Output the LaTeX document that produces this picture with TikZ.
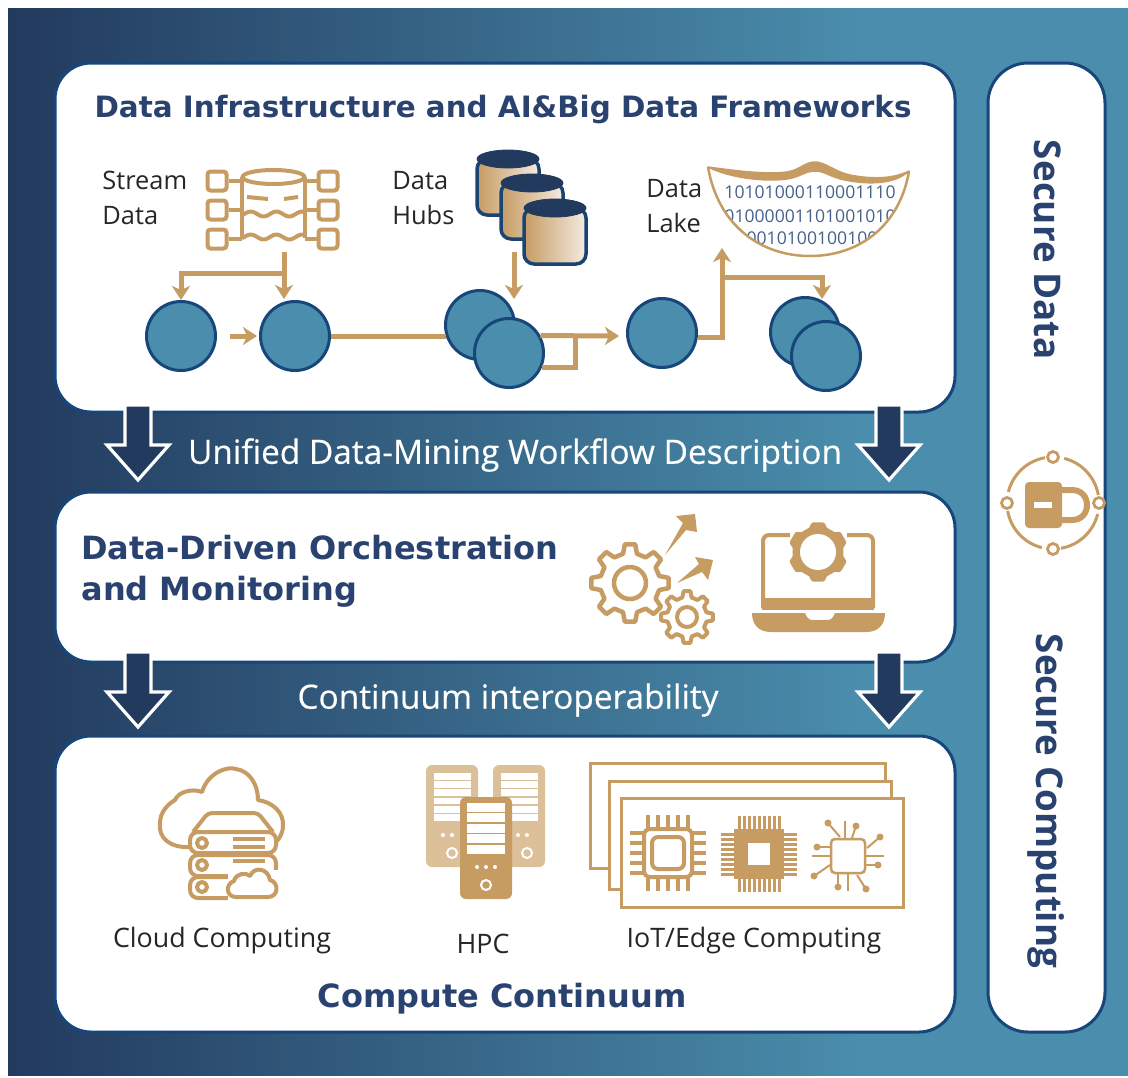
\documentclass[tikz,border=0pt]{standalone}
\usepackage{fontspec}
\setmainfont{Open Sans}
\newfontfamily\headfont{DejaVu Sans}
\newfontfamily\bandfont{Open Sans}[FakeBold=0.35]
\usepackage[HTML]{xcolor}
\usetikzlibrary{positioning, arrows.meta}

\definecolor{navy}{HTML}{223A5E}
\definecolor{edgeblue}{HTML}{17467A}
\definecolor{teal}{HTML}{4A8DAC}
\definecolor{tan}{HTML}{C69C63}
\definecolor{paletan}{HTML}{DCC09A}
\definecolor{inkblue}{HTML}{2A4270}
\definecolor{digitblue}{HTML}{44628C}

\pgfdeclarehorizontalshading{bandshade}{100bp}{color(0bp)=(navy); color(25bp)=(navy); color(63bp)=(teal); color(100bp)=(teal)}

\tikzset{
    pics/blockarrow/.style={code={
        \draw[white, fill=navy, line width=1.6pt, line join=miter]
            (-13,0) -- (13,0) -- (13,40) -- (31,40) -- (0,75) -- (-31,40) -- (-13,40) -- cycle;
    }},
    pics/hubdrum/.style={code={
        \draw[edgeblue!80!navy, line width=1.75pt, left color=tan, middle color=tan, right color=tan!20!white, rounded corners=5pt]
            (0,9) -- (0,65) -- (62,65) -- (62,9) -- cycle;
        \fill[navy, draw=navy] (31,9) ellipse [x radius=31, y radius=9];
    }},
    pics/gearwheel/.style n args={3}{code={
        \path[pic actions] ({0.7*360/#3}:#1)
            \foreach \t in {1,...,#3} {
                -- ({(\t-0.3)*360/#3}:#1) -- ({(\t-0.17)*360/#3}:#2)
                -- ({(\t+0.17)*360/#3}:#2) -- ({(\t+0.3)*360/#3}:#1)
            } -- cycle;
    }},
}

\begin{document}
\begin{tikzpicture}[
    x=0.5pt, y=-0.5pt,
    panel/.style={draw=edgeblue, fill=white, line width=1.5pt, rounded corners=18pt, inner sep=0pt},
    flow/.style={circle, draw=edgeblue, fill=teal, line width=1.5pt, minimum size=34.5pt, inner sep=0pt},
    flowline/.style={draw=tan, line width=2.5pt},
    flowarrow/.style={flowline, -{Stealth[length=7pt, width=9pt, inset=2pt]}},
    iconline/.style={draw=tan, line width=2pt, line join=round},
    port/.style={rectangle, draw=tan, line width=2pt, rounded corners=1.5pt, minimum size=9.5pt, inner sep=0pt},
    locknode/.style={circle, draw=tan, fill=white, line width=1.4pt, minimum size=5.5pt, inner sep=0pt},
    boxtitle/.style={font=\headfont\bfseries\fontsize{16}{19}\selectfont, text=inkblue, inner sep=0pt},
    bandtext/.style={font=\bandfont\fontsize{16.7}{20}\selectfont, text=white, inner sep=0pt},
    sidetext/.style={font=\bfseries\fontsize{18.4}{22}\selectfont, text=inkblue, rotate=-90, inner sep=0pt},
    smalltext/.style={font=\fontsize{12.7}{17.5}\selectfont, text=black!85, inner sep=0pt, align=left},
    icontext/.style={font=\fontsize{13.4}{17}\selectfont, text=black!85, inner sep=0pt},
    digits/.style={font=\fontsize{8.8}{10}\selectfont, text=digitblue, inner sep=0pt},
]
    \useasboundingbox (0,0) rectangle (1128,1077);
    \fill[white] (0,0) rectangle (1128,1077);

    % Background
    \shade[shading=bandshade] (8,8) rectangle (1128,1075);

    % Define panels
    \node (infraBox) [panel, minimum width=450pt, minimum height=174.5pt] at (505,237.5) {};
    \node (orchBox) [panel, minimum width=450pt, minimum height=85pt] at (505,577) {};
    \node (computeBox) [panel, minimum width=450pt, minimum height=148pt] at (505,884) {};
    \node (secureBox) [panel, minimum width=58.5pt, minimum height=484.5pt, rounded corners=20pt] at (1046.5,547.5) {};

    % Block arrows between panels
    \pic (arrowA) at (138,405) {blockarrow};
    \pic (arrowB) at (889,405) {blockarrow};
    \pic (arrowC) at (138,652) {blockarrow};
    \pic (arrowD) at (889,652) {blockarrow};

    % Titles and band texts
    \node (titleInfra) [boxtitle, font=\headfont\bfseries\fontsize{14.7}{18}\selectfont] at (503,109) {Data Infrastructure and AI\&Big Data Frameworks};
    \node (titleOrchA) [boxtitle, anchor=west] at (81,548) {Data-Driven Orchestration};
    \node (titleOrchB) [boxtitle, anchor=west] at (81,592) {and Monitoring};
    \node (titleCompute) [boxtitle] at (502,999) {Compute Continuum};
    \node (bandUnified) [bandtext] at (515,455) {Unified Data-Mining Workflow Description};
    \node (bandContinuum) [bandtext] at (508,700) {Continuum interoperability};
    \node (sideData) [sidetext] at (1048,250) {Secure Data};
    \node (sideCompute) [sidetext] at (1046,801) {Secure Computing};

    % Data labels
    \node (labelStream) [smalltext, anchor=west] at (102,198) {Stream\\Data};
    \node (labelHubs) [smalltext, anchor=west] at (392,198) {Data\\Hubs};
    \node (labelLake) [smalltext, anchor=west] at (646,206) {Data\\Lake};

    % Stream data icon
    \node (streamTank) [minimum width=31pt, minimum height=31pt, inner sep=0pt] at (273.5,207) {};
    \node (portA) [port] at (217,181) {};
    \node (portB) [port, below=3pt of portA] {};
    \node (portC) [port, below=3pt of portB] {};
    \node (portD) [port] at (328,181) {};
    \node (portE) [port, below=3pt of portD] {};
    \node (portF) [port, below=3pt of portE] {};
    \foreach \p in {portA, portB, portC}
        \draw[iconline] (\p.east) -- (\p -| streamTank.west);
    \foreach \p in {portD, portE, portF}
        \draw[iconline] (\p.west) -- (\p -| streamTank.east);
    \draw[iconline] (streamTank.west |- 0,177) -- (streamTank.west |- 0,238);
    \draw[iconline] (streamTank.east |- 0,177) -- (streamTank.east |- 0,238);
    \draw[iconline] (273.5,177) ellipse [x radius=31, y radius=7];
    \draw[iconline] (247,197) -- (268,199) (284,199) -- (298,197);
    \draw[iconline] plot[domain=242:304, samples=30, smooth] (\x,{214+2.5*sin(\x*14)});
    \draw[iconline] plot[domain=242:304, samples=30, smooth] (\x,{237+2.5*sin(\x*14)});

    % Data hubs icon
    \pic (drumA) at (477,150) {hubdrum};
    \pic (drumB) at (501,174) {hubdrum};
    \pic (drumC) at (524,199) {hubdrum};

    % Data lake icon
    \begin{scope}
        \clip (708,167) .. controls (718,225) and (760,256) .. (810,256)
            .. controls (860,256) and (900,225) .. (909,171) -- cycle;
        \node (digitsA) [digits] at (810,192) {10101000110001110};
        \node (digitsB) [digits] at (810,216) {0010000011010010100};
        \node (digitsC) [digits] at (812,238) {100101001001000};
    \end{scope}
    \draw[draw=tan, line width=1.25pt] (708,167) .. controls (718,225) and (760,256) .. (810,256)
        .. controls (860,256) and (900,225) .. (909,171);
    \draw[fill=tan, draw=tan, line width=0.75pt, line join=round] (708,167) .. controls (730,170) and (765,175) .. (787,172)
        .. controls (800,170) and (805,162) .. (815,162)
        .. controls (825,162) and (835,172) .. (850,175)
        .. controls (875,180) and (895,178) .. (909,171)
        .. controls (895,184) and (870,185) .. (845,180)
        .. controls (830,177) and (825,171) .. (815,171)
        .. controls (805,171) and (800,177) .. (787,179)
        .. controls (765,182) and (730,178) .. (708,167) -- cycle;

    % Define flow nodes
    \node (flowA) [flow] at (181,336) {};
    \node (flowB) [flow, right=21pt of flowA] {};
    \node (flowCback) [flow] at (480,325) {};
    \node (flowC) [flow] at (509,353) {};
    \node (flowD) [flow] at (662,333) {};
    \node (flowEback) [flow] at (805,332) {};
    \node (flowE) [flow] at (826,356) {};

    % Free ends of the arrows
    \coordinate (streamOut) at (284,252);
    \coordinate (streamJoin) at (284,273);
    \coordinate (streamIn) at (284,299);
    \coordinate (hubOut) at (514,252);
    \coordinate (hubIn) at (514,299);
    \coordinate (flowDin) at (619,336);
    \coordinate (loopEnd) at (575,336);
    \coordinate (lakeIn) at (722,248);
    \coordinate (lakeJoin) at (722,277);
    \coordinate (flowEin) at (822,299);

    % Draw arrows
    \draw[flowline] (streamOut) -- (streamJoin);
    \draw[flowarrow] (streamJoin) -- (streamIn);
    \draw[flowarrow] (streamJoin) -| (flowA.north);
    \draw[flowarrow, shorten <=6.5pt, shorten >=1pt] (flowA.east) -- (flowB.west);
    \draw[flowline] (flowB.east) -- (flowB.east -| flowCback.198);
    \draw[flowarrow] (hubOut) -- (hubIn);
    \draw[flowarrow] (flowC.29) -- (flowDin);
    \draw[flowline] (flowC.-24) -| (loopEnd);
    \draw[flowarrow] (flowD.-7) -| (lakeIn);
    \draw[flowarrow] (lakeJoin) -| (flowEin);

    % Gears with arrows
    \pic[draw=tan, fill=white, line width=2.25pt, line join=round] (gearBig) at (630,583) {gearwheel={30}{39}{8}};
    \draw[draw=tan, line width=2.25pt] (630,583) circle (16);
    \pic[draw=tan, fill=white, line width=2pt, line join=round] (gearSmall) at (687,617) {gearwheel={20}{26}{8}};
    \draw[draw=tan, line width=2pt] (687,617) circle (10);
    \fill[tan] (665,555) -- (686,530) -- (697,532) -- (695,514) -- (676,516) -- (683,523) -- cycle;
    \fill[tan] (677,583) -- (702,572) -- (708,580) -- (713,560) -- (695,557) -- (699,564) -- cycle;

    % Laptop
    \draw[iconline, rounded corners=3pt] (790,535) -- (763,535) -- (763,608);
    \draw[iconline, rounded corners=3pt] (847,535) -- (873,535) -- (873,608);
    \fill[tan] (762,598) rectangle (874,610);
    \fill[tan] (752,613) -- (805,613) .. controls (808,620) and (810,620) .. (814,620) -- (826,620)
        .. controls (830,620) and (832,620) .. (835,613) -- (885,613)
        .. controls (885,625) and (878,632) .. (866,632) -- (771,632)
        .. controls (759,632) and (752,625) .. (752,613) -- cycle;
    \pic[draw=tan, fill=tan, line width=2pt, line join=round, rotate=30] (gearLaptop) at (818,552) {gearwheel={24}{28}{6}};
    \fill[white] (818,552) circle (18);

    % Lock on the side panel
    \node (lockE) [locknode] at (1099,503) {};
    \node (lockS) [locknode] at (1053,549) {};
    \node (lockW) [locknode] at (1007,503) {};
    \node (lockN) [locknode] at (1053,457) {};
    \foreach \a in {0,90,180,270}
        \draw[draw=tan, line width=1.5pt] ({1053+46*cos(14+\a)},{503+46*sin(14+\a)})
            arc [start angle=14+\a, end angle=80+\a, radius=46];
    \draw[draw=tan, line width=3pt] (1058,490) -- (1072,490) .. controls (1092,490) and (1092,520) .. (1072,520) -- (1058,520);
    \fill[tan, rounded corners=2pt] (1025,482) rectangle (1062,528);
    \draw[draw=white, line width=3pt] (1034,505) -- (1052,505);

    % Cloud computing icon
    \draw[iconline] (190,847) .. controls (170,848) and (158,838) .. (160,823)
        .. controls (160,812) and (168,804) .. (175,800)
        .. controls (178,792) and (192,788) .. (202,792)
        .. controls (208,772) and (228,766) .. (236,769)
        .. controls (250,771) and (258,785) .. (258,800)
        .. controls (272,802) and (284,812) .. (283,826)
        .. controls (283,832) and (280,838) .. (276,842);
    \fill[white] (190,813) rectangle (275,832);
    \draw[iconline, rounded corners=2pt] (193,832) -- (208,813) -- (258,813) -- (273,832);
    \foreach \r/\ry in {832/843, 855/865, 877/887} {
        \draw[iconline, rounded corners=4pt] (190,\r) rectangle (276,\r+21);
        \draw[iconline] (202,\ry) circle (5);
    }
    \draw[iconline] (233,839) -- (265,839) (233,847) -- (265,847) (233,861) -- (265,861);
    \fill[white] (228,870) rectangle (280,901);
    \draw[iconline, fill=white] (236,897) .. controls (226,897) and (225,884) .. (234,881)
        .. controls (236,873) and (246,872) .. (250,876)
        .. controls (254,866) and (268,868) .. (270,880)
        .. controls (279,882) and (279,897) .. (268,897) -- cycle;

    % HPC icon
    \foreach \bx/\dx in {426/443, 493/518} {
        \fill[paletan, rounded corners=3pt] (\bx,765) rectangle (\bx+52,867);
        \foreach \r in {0,...,5}
            \fill[white] (\bx+8,773+\r*8.2) rectangle (\bx+45,773+\r*8.2+6.8);
        \fill[white] (\dx,835) circle (2) (\dx+9,835) circle (2);
        \draw[draw=white, line width=1pt] (\dx+9,853) circle (5);
    }
    \fill[tan, rounded corners=3pt] (460,797) rectangle (512,899);
    \foreach \r in {0,...,4}
        \fill[white] (467,803+\r*10.4) rectangle (505,803+\r*10.4+9);
    \fill[white] (477,867) circle (2) (486,867) circle (2) (495,867) circle (2);
    \draw[draw=white, line width=1pt] (486,885) circle (5);

    % IoT and edge icon
    \draw[draw=tan, line width=1.5pt, fill=white] (590,763) rectangle (885,868);
    \draw[draw=tan, line width=1.5pt, fill=white] (609,781) rectangle (891,889);
    \draw[draw=tan, line width=1.5pt, fill=white] (621,798) rectangle (903,907);
    \begin{scope}[shift={(668,853)}]
        \foreach \s in {-20,-10,...,20}
            \draw[iconline] (\s,-24) -- (\s,-38) (\s,24) -- (\s,38) (-24,\s) -- (-38,\s) (24,\s) -- (38,\s);
        \draw[iconline, fill=white, rounded corners=3pt] (-24,-24) rectangle (24,24);
        \draw[iconline, rounded corners=3pt] (-16,-16) rectangle (16,16);
    \end{scope}
    \begin{scope}[shift={(759,854)}]
        \foreach \s in {-20,-15,...,20}
            \draw[draw=tan, line width=1.5pt] (\s,-25) -- (\s,-38) (\s,25) -- (\s,38) (-25,\s) -- (-38,\s) (25,\s) -- (38,\s);
        \fill[tan] (-25,-25) rectangle (25,25);
        \fill[white] (-11,-11) rectangle (11,11);
    \end{scope}
    \begin{scope}[shift={(848,856)}]
        \foreach \s/\t/\u/\v in {-8/-19/-20/-33, 4/-18/8/-30, 19/-8/32/-19, -17/-9/-31/-9, 17/9/30/9, -18/9/-34/20, -10/17/-10/31, 9/19/18/33} {
            \draw[draw=tan, line width=1pt] (\s,\t) -- (\u,\v);
            \fill[tan] (\u,\v) circle (3.5);
        }
        \draw[draw=tan, line width=1pt] (-3,-17) -- (-3,-35) (-17,0) -- (-36,0) (17,0) -- (36,0) (0,17) -- (0,35);
        \draw[draw=tan, line width=1.25pt, fill=white, rounded corners=2pt] (-17,-17) rectangle (17,17);
    \end{scope}

    % Bottom labels
    \node (labelCloud) [icontext] at (222,941) {Cloud Computing};
    \node (labelHpc) [icontext] at (483,944) {HPC};
    \node (labelIot) [icontext] at (754,941) {IoT/Edge Computing};
\end{tikzpicture}
\end{document}
